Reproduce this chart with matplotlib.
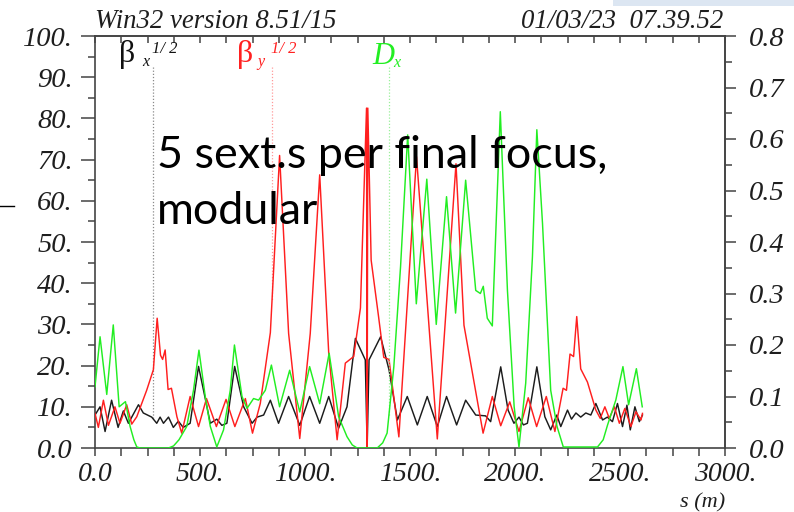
import numpy as np
import matplotlib
matplotlib.use("Agg")
import matplotlib.pyplot as plt
from matplotlib.lines import Line2D
from matplotlib.patches import Rectangle
from matplotlib.ticker import FixedLocator, MultipleLocator

W, H = 794, 512

# ---------------- data ----------------
# beta_x^(1/2) (black), left axis
s_bx = [0, 24, 48, 79, 110, 135, 159, 207, 230, 270, 294, 310, 326, 350, 373, 397,
        420, 453, 493, 525, 549, 580, 604, 628, 665, 708, 748, 772, 803, 835, 874,
        922, 975, 1022, 1070, 1113, 1160, 1200, 1240, 1287, 1296, 1305, 1360, 1400,
        1440, 1487, 1535, 1582, 1630, 1674, 1722, 1765, 1813, 1860, 1884, 1932, 1967,
        1995, 2019, 2040, 2059, 2104, 2142, 2170, 2199, 2218, 2250, 2269, 2290, 2313,
        2337, 2361, 2385, 2417, 2440, 2464, 2488, 2512, 2533, 2549, 2571, 2592, 2607]
betx = [8, 10, 4, 11.6, 5, 9, 6, 10.5, 8.5, 7.5, 6, 7.5, 6, 7.5, 5, 6.5,
        5, 6, 19.8, 12, 6, 7, 5.5, 6, 19.8, 10, 6, 7.5, 8, 11.6, 6,
        12.5, 5.5, 12.5, 6, 12.5, 4.8, 10, 26.6, 21.4, 0.3, 21.4, 27, 19,
        6.8, 12.5, 5.6, 12.5, 5.2, 12.5, 5.6, 11.6, 8, 7.8, 6.4, 19.7, 9.2,
        6, 7.5, 5.6, 6, 19.7, 7.6, 4.4, 8, 5.2, 9.2, 7, 8.5, 7.5,
        8.5, 8, 10.8, 6.8, 7.5, 6.4, 10.8, 5.2, 10.4, 4.4, 10, 6.4, 8]

# beta_y^(1/2) (red), left axis
s_by = [0, 16, 40, 64, 95, 119, 151, 175, 199, 246, 278, 296, 312, 322, 334, 348,
        364, 390, 413, 453, 493, 531, 578, 624, 666, 716, 750, 787, 835, 879, 922,
        975, 1025, 1070, 1113, 1153, 1192, 1232, 1264, 1293, 1296, 1299, 1315, 1350,
        1375, 1400, 1447, 1531, 1630, 1719, 1757, 1848, 1892, 1932, 1975, 2019, 2063,
        2103, 2149, 2190, 2229, 2245, 2262, 2279, 2294, 2313, 2345, 2385, 2406, 2428,
        2449, 2473, 2497, 2523, 2552, 2576, 2600, 2607]
bety = [8.4, 5, 11.6, 5.5, 10, 6, 10.5, 5.8, 7.6, 14, 19, 31.5, 22.5, 21.5, 23.8, 14.2,
        14.5, 7.6, 3.6, 12.5, 5.2, 12, 5.2, 11.8, 5.2, 12, 3.6, 10.8, 28, 71, 27.8,
        2.3, 27.8, 66.3, 23, 2, 20.6, 22.2, 34, 82.5, 0.3, 82.5, 45.6, 32,
        22, 21.5, 2.7, 70.7, 2.2, 69, 29.8, 3.6, 12.5, 5.4, 11.2, 4, 12.2,
        5.2, 12.5, 4, 14.5, 14, 22.8, 22.2, 31.9, 19.2, 16, 9.2, 7.2, 10,
        7.2, 10, 6, 9.6, 5.2, 8.8, 6.8, 8.4]

# D_x (green), right axis, metres
s_dx = [0, 24, 56, 87, 115, 145, 167, 185, 199, 215, 350, 374, 400, 437, 469, 495,
        525, 549, 580, 612, 644, 664, 700, 724, 755, 779, 811, 840, 879, 927, 975,
        1022, 1070, 1115, 1160, 1200, 1225, 1248, 1344, 1370, 1391, 1423, 1455, 1489,
        1530, 1580, 1625, 1674, 1717, 1765, 1813, 1835, 1849, 1868, 1892, 1930, 1964,
        1996, 2019, 2051, 2083, 2104, 2131, 2170, 2200, 2230, 2393, 2420, 2441, 2480,
        2514, 2541, 2578, 2606]
dx = [0.119, 0.216, 0.104, 0.239, 0.080, 0.090, 0.042, 0.016, 0.002, 0.0, 0.0, 0.004,
      0.016, 0.042, 0.112, 0.190, 0.100, 0.042, 0.002, 0.035, 0.112, 0.200, 0.100,
      0.077, 0.096, 0.093, 0.112, 0.161, 0.080, 0.151, 0.070, 0.158, 0.086, 0.184,
      0.061, 0.022, 0.006, 0.0, 0.0, 0.010, 0.029, 0.158, 0.352, 0.608, 0.280, 0.522,
      0.240, 0.488, 0.262, 0.520, 0.306, 0.300, 0.314, 0.252, 0.237, 0.653, 0.306,
      0.080, 0.002, 0.126, 0.371, 0.618, 0.436, 0.112, 0.042, 0.002, 0.002, 0.016,
      0.045, 0.093, 0.158, 0.084, 0.154, 0.080]

left_ticks = [0, 10, 20, 30, 40, 50, 60, 70, 80, 90, 100]
left_labels = ["0.0", "10.", "20.", "30.", "40.", "50.", "60.", "70.", "80.", "90.", "100."]
right_ticks = [0.0, 0.1, 0.2, 0.3, 0.4, 0.5, 0.6, 0.7, 0.8]
right_labels = ["0.0", "0.1", "0.2", "0.3", "0.4", "0.5", "0.6", "0.7", "0.8"]
x_ticks = [0, 500, 1000, 1500, 2000, 2500, 3000]
x_labels = ["0.0", "500.", "1000.", "1500.", "2000.", "2500.", "3000."]

header_left = "Win32 version 8.51/15"
header_right = "01/03/23  07.39.52"
overlay_lines = ["5 sext.s per final focus,", "modular"]
xlabel = "s (m)"
marker_s = [278, 843, 1399]

# ---------------- figure ----------------
plt.rcParams["font.family"] = ["Liberation Serif", "DejaVu Serif"]
plt.rcParams["font.style"] = "italic"

fig = plt.figure(figsize=(W / 100, H / 100), dpi=100)
ax = fig.add_axes([95 / W, 1 - 448 / H, 630 / W, 412 / H])
ax.set_xlim(0, 3000)
ax.set_ylim(0, 100)
ax2 = ax.twinx()
ax2.set_ylim(0, 0.8)

axc = "#444444"
tc = "#1e1e1e"
for sp in ax.spines.values():
    sp.set_color(axc)
    sp.set_linewidth(1.2)
for name, sp in ax2.spines.items():
    if name == "right":
        sp.set_color(axc)
        sp.set_linewidth(1.2)
    else:
        sp.set_visible(False)

ax.plot(s_bx, betx, color="#1c1c1c", lw=1.05, zorder=3)
ax.plot(s_by, bety, color="#ff1f1f", lw=1.05, zorder=3)
ax2.plot(s_dx, dx, color="#22ee22", lw=1.05, zorder=3)

# dotted label markers
ax.plot([marker_s[0]] * 2, [92.5, np.interp(marker_s[0], s_bx, betx)],
        ls=(0, (1, 1.5)), color="#8a8a8a", lw=0.9)
ax.plot([marker_s[1]] * 2, [92.5, np.interp(marker_s[1], s_by, bety)],
        ls=(0, (1, 1.5)), color="#ff9a9a", lw=0.9)
ax2.plot([marker_s[2]] * 2, [0.74, np.interp(marker_s[2], s_dx, dx)],
         ls=(0, (1, 1.5)), color="#99f099", lw=0.9)

ax.yaxis.set_major_locator(FixedLocator(left_ticks))
ax.set_yticklabels(left_labels)
ax.yaxis.set_minor_locator(MultipleLocator(5))
ax.tick_params(axis="y", which="major", direction="out", length=10, width=1.1,
               color=axc, pad=6, labelsize=20.5, labelcolor=tc, right=False)
ax.tick_params(axis="y", which="minor", direction="out", length=5, width=1.1,
               color=axc, right=False)

ax.xaxis.set_major_locator(FixedLocator(x_ticks))
ax.set_xticklabels(x_labels)
ax.xaxis.set_minor_locator(MultipleLocator(125))
ax.tick_params(axis="x", which="both", direction="out", length=6, width=1.1,
               color=axc, pad=4, labelsize=20, labelcolor=tc, top=False)

sec = ax.secondary_xaxis("top")
sec.xaxis.set_major_locator(MultipleLocator(125))
sec.tick_params(axis="x", direction="in", length=5, width=1.1, color=axc, labeltop=False)
sec.spines["top"].set_color(axc)
sec.spines["top"].set_linewidth(1.2)

ax2.yaxis.set_major_locator(FixedLocator(right_ticks))
ax2.set_yticklabels(right_labels)
ax2.yaxis.set_minor_locator(MultipleLocator(0.05))
ax2.tick_params(axis="y", which="major", direction="out", length=8, width=1.1,
                color=axc, pad=9, labelsize=20.5, labelcolor=tc)
ax2.tick_params(axis="y", which="minor", direction="out", length=5, width=1.1, color=axc)

def ftxt(px, py, s, **kw):
    return fig.text(px / W, 1 - py / H, s, **kw)

# header
ftxt(95, 28, header_left, fontsize=19.3, color=tc, va="baseline", ha="left")
ftxt(723, 28, header_right, fontsize=19.3, color=tc, va="baseline", ha="right")

# curve labels
ftxt(119, 62, "β", fontsize=23, style="normal", color="#111111", va="baseline")
ftxt(142, 66, "x", fontsize=11.5, color="#111111", va="baseline")
ftxt(152, 53, "1/ 2", fontsize=12, color="#111111", va="baseline")
ftxt(237, 62, "β", fontsize=23, style="normal", color="#ff2020", va="baseline")
ftxt(257, 66, "y", fontsize=11.5, color="#ff2020", va="baseline")
ftxt(271, 53, "1/ 2", fontsize=12, color="#ff2020", va="baseline")
ftxt(372, 64, "D", fontsize=22, color="#22ee22", va="baseline")
ftxt(393, 67, "x", fontsize=11.5, color="#22ee22", va="baseline")

# axis label (sits at the bottom edge)
ftxt(725, 493, xlabel, fontsize=16, color=tc, va="top", ha="right")

# overlay text
ftxt(157, 168, overlay_lines[0], fontsize=32.3, family="Lato", style="normal",
     color="black", va="baseline", zorder=10)
ftxt(157, 224, overlay_lines[1], fontsize=32.3, family="Lato", style="normal",
     color="black", va="baseline", zorder=10)

# decorations
fig.add_artist(Line2D([0, 14 / W], [1 - 206 / H] * 2, color="black", lw=1.0))
fig.add_artist(Rectangle((613 / W, 1 - 6 / H), 181 / W, 6 / H, color="#dce6f2", lw=0))

fig.savefig("out.png", dpi=100)
